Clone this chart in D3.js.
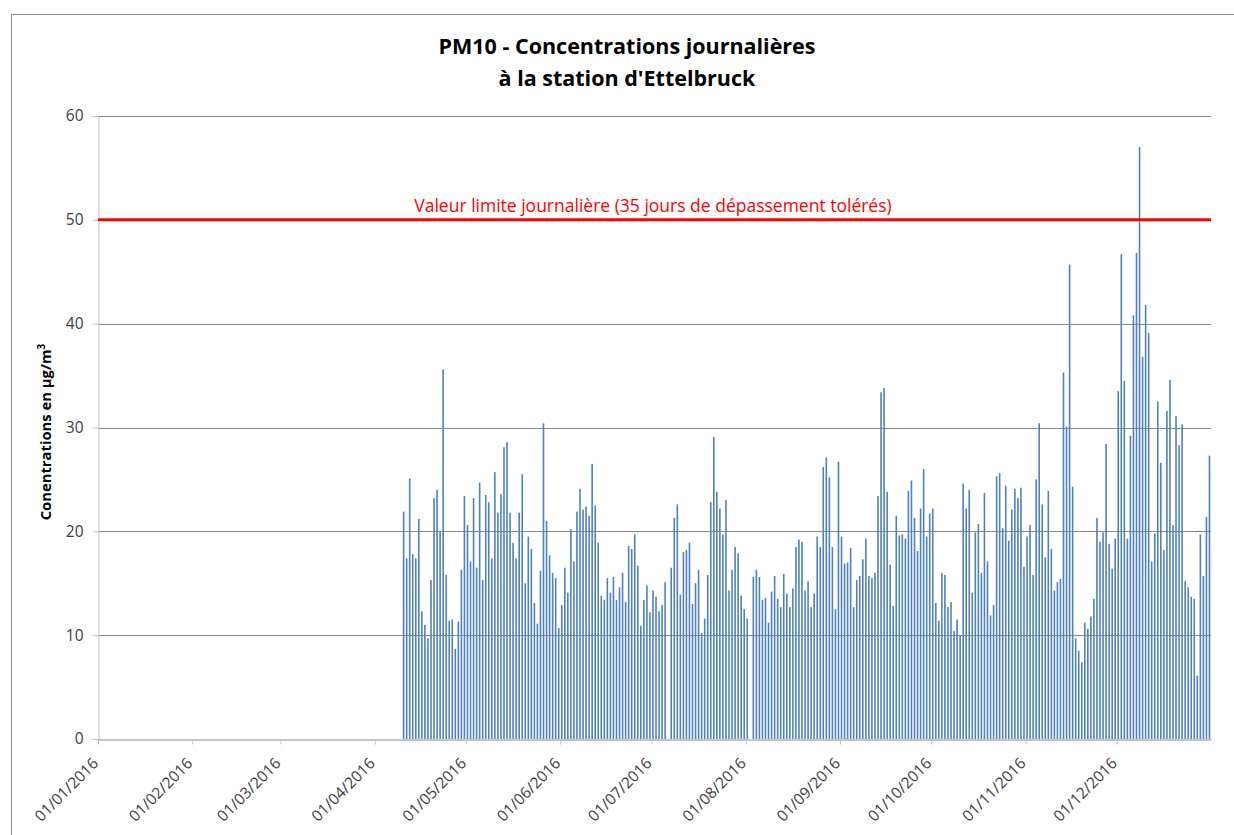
<!DOCTYPE html>
<html>
<head>
<meta charset="utf-8">
<script src="https://cdn.jsdelivr.net/npm/d3@7"></script>
<style>
  body { margin: 0; background: #fff; }
  text { font-family: "Open Sans", "Noto Sans", sans-serif; }
</style>
</head>
<body>
<div id="chart"></div>
<script>
// daily PM10 values (µg/m³), one per day starting at firstDay, null = no data
var firstDay = "2016-04-10";
var pm10 = [
  21.9, 17.4, 25.1, 17.8, 17.4, 21.2, 12.3, 11.0, 9.7, 15.3, 23.2, 24.0, 20.0, 35.6, 15.8, 11.4, 11.5, 8.7, 11.3, 16.3, 23.4, 20.6, 17.1, 23.2, 16.5, 24.7, 15.3,
  23.5, 22.8, 17.4, 25.7, 21.8, 23.6, 28.1, 28.6, 21.8, 18.9, 17.4, 21.8, 25.5, 15.0, 19.5, 18.3, 13.1, 11.1, 16.2, 30.4, 21.0, 17.7, 16.0, 15.5, 10.7, 12.9, 16.5,
  14.1, 20.2, 17.1, 21.9, 24.1, 22.1, 22.4, 21.5, 26.5, 22.5, 18.9, 13.8, 13.4, 15.5, 14.1, 15.6, 13.4, 14.6, 16.0, 13.2, 18.6, 18.3, 19.7, 16.7, 10.9, 13.4, 14.8,
  12.2, 14.3, 13.7, 12.3, 12.9, 15.1, null, 16.5, 21.3, 22.6, 13.9, 18.0, 18.2, 18.9, 13.0, 15.0, 16.3, 10.2, 11.6, 15.8, 22.8, 29.1, 23.8, 22.2, 19.7, 23.0, 14.3,
  16.3, 18.5, 17.9, 13.8, 12.5, 11.6, null, 15.6, 16.3, 15.6, 13.4, 13.6, 11.2, 14.2, 15.7, 13.5, 12.7, 15.9, 14.0, 12.7, 14.5, 18.5, 19.2, 19.0, 14.3, 15.2,
  12.7, 14.0, 19.5, 18.5, 26.2, 27.1, 25.2, 18.5, 12.5, 26.7, 19.5, 16.9, 17.0, 18.4, 12.7, 15.3, 15.7, 17.3, 19.3, 15.7, 15.5, 16.0, 23.4, 33.4, 33.8, 23.8, 16.8,
  12.8, 21.5, 19.6, 19.7, 19.3, 23.9, 24.9, 21.3, 18.1, 22.2, 26.0, 19.5, 21.7, 22.2, 13.1, 11.4, 16.0, 15.8, 12.7, 13.2, 10.4, 11.5, 10.0, 24.6, 22.2, 24.0, 14.1,
  19.9, 20.7, 16.0, 23.7, 17.1, 11.9, 12.9, 25.3, 25.6, 20.3, 24.4, 19.1, 22.1, 24.1, 23.2, 24.2, 16.6, 19.5, 20.6, 15.8, 25.0, 30.4, 22.6, 17.5, 23.9, 18.3, 14.3,
  15.1, 15.4, 35.3, 30.1, 45.7, 24.3, 9.7, 8.5, 7.4, 11.2, 10.6, 11.8, 13.5, 21.3, 19.0, 19.9, 28.4, 18.8, 16.4, 19.3, 33.5, 46.7, 34.5, 19.3, 29.2, 40.8, 46.8,
  57.0, 36.8, 41.8, 39.1, 17.1, 19.8, 32.5, 26.6, 18.2, 31.6, 34.6, 20.6, 31.1, 28.3, 30.3, 15.2, 14.6, 13.7, 13.5, 6.1, 19.7, 15.7, 21.4, 27.3
];
var yTicks = [0, 10, 20, 30, 40, 50, 60];
var limitValue = 50;
var limitLabel = "Valeur limite journalière (35 jours de dépassement tolérés)";
var titleLines = ["PM10 - Concentrations journalières", "à la station d'Ettelbruck"];
var yTitle = "Conentrations en µg/m";

function drawChart(){
    var width = 1234, height = 835;
    var plotLeft = 98, plotRight = 1211, plotTop = 116, plotBottom = 739;

    var parseDay = d3.timeParse("%Y-%m-%d");
    var start = parseDay(firstDay);
    var data = pm10.map(function(v, i){
        return {date: d3.timeDay.offset(start, i), value: v};
    }).filter(function(d){ return d.value != null; });

    var xScale = d3.scaleTime()
        .domain([parseDay("2016-01-01"), parseDay("2017-01-01")])
        .range([plotLeft, plotRight]);
    var yScale = d3.scaleLinear().domain([0, 60]).range([plotBottom, plotTop]);
    var dayW = xScale(parseDay("2016-01-02")) - xScale(parseDay("2016-01-01"));
    var barW = 1.6;

    var svg = d3.select("#chart").append("svg")
        .attr("width", width)
        .attr("height", height);

    // chart frame
    svg.append("rect")
        .attr("x", 11.5).attr("y", 14.5)
        .attr("width", width).attr("height", height)
        .attr("fill", "none").attr("stroke", "#8c8c8c");

    // gridlines
    svg.selectAll(".grid").data(yTicks.slice(1)).enter().append("line")
        .attr("x1", plotLeft).attr("x2", plotRight)
        .attr("y1", function(d){ return Math.round(yScale(d)) + 0.5; })
        .attr("y2", function(d){ return Math.round(yScale(d)) + 0.5; })
        .attr("stroke", "#898989");

    // bars
    svg.selectAll(".bar").data(data).enter().append("rect")
        .attr("x", function(d){ return xScale(d.date) + (dayW - barW) / 2; })
        .attr("y", function(d){ return yScale(d.value); })
        .attr("width", barW)
        .attr("height", function(d){ return plotBottom - yScale(d.value); })
        .style("fill", "#4f81bd");

    // y axis
    var yAxis = d3.axisLeft(yScale).tickValues(yTicks).tickSize(6).tickPadding(9).tickSizeOuter(0);
    var gy = svg.append("g")
        .attr("transform", "translate(" + (plotLeft + 0.5) + ",0)")
        .call(yAxis);
    gy.select(".domain").attr("stroke", "#bfbfbf");
    gy.selectAll(".tick line").attr("stroke", "#bfbfbf");
    gy.selectAll(".tick text").attr("fill", "#404040").style("font-size", "15.5px");

    // x axis
    var xAxis = d3.axisBottom(xScale)
        .ticks(d3.timeMonth.every(1))
        .tickFormat(d3.timeFormat("%d/%m/%Y"))
        .tickSize(5).tickSizeOuter(0);
    var gx = svg.append("g")
        .attr("transform", "translate(0," + (plotBottom + 0.5) + ")")
        .call(xAxis);
    gx.select(".domain").attr("stroke", "#898989");
    gx.selectAll(".tick line").attr("stroke", "#bfbfbf");
    gx.selectAll(".tick").filter(function(d){ return d >= parseDay("2017-01-01"); }).remove();
    gx.selectAll(".tick text")
        .attr("fill", "#404040")
        .style("font-size", "15.5px")
        .attr("text-anchor", "end")
        .attr("x", 0).attr("y", 0)
        .attr("dy", "0.35em")
        .attr("transform", "translate(-3,21) rotate(-45)");

    // limit line
    svg.append("line")
        .attr("x1", plotLeft).attr("x2", plotRight)
        .attr("y1", yScale(limitValue)).attr("y2", yScale(limitValue))
        .attr("stroke", "#ff0000").attr("stroke-width", 3);
    svg.append("text")
        .attr("x", 653).attr("y", yScale(limitValue) - 8)
        .attr("text-anchor", "middle")
        .attr("fill", "#ff0000")
        .style("font-size", "17.5px")
        .text(limitLabel);

    // title
    svg.selectAll(".title").data(titleLines).enter().append("text")
        .attr("x", 627)
        .attr("y", function(d, i){ return 54 + i * 32; })
        .attr("text-anchor", "middle")
        .attr("fill", "#000")
        .style("font-size", "21.5px")
        .style("font-weight", "bold")
        .text(function(d){ return d; });

    // y title
    var yt = svg.append("text")
        .attr("transform", "translate(51,432) rotate(-90)")
        .attr("text-anchor", "middle")
        .style("font-size", "14.8px")
        .style("font-weight", "bold")
        .text(yTitle);
    yt.append("tspan").attr("dy", "-6").style("font-size", "10px").text("3");
}

drawChart();
</script>
</body>
</html>
